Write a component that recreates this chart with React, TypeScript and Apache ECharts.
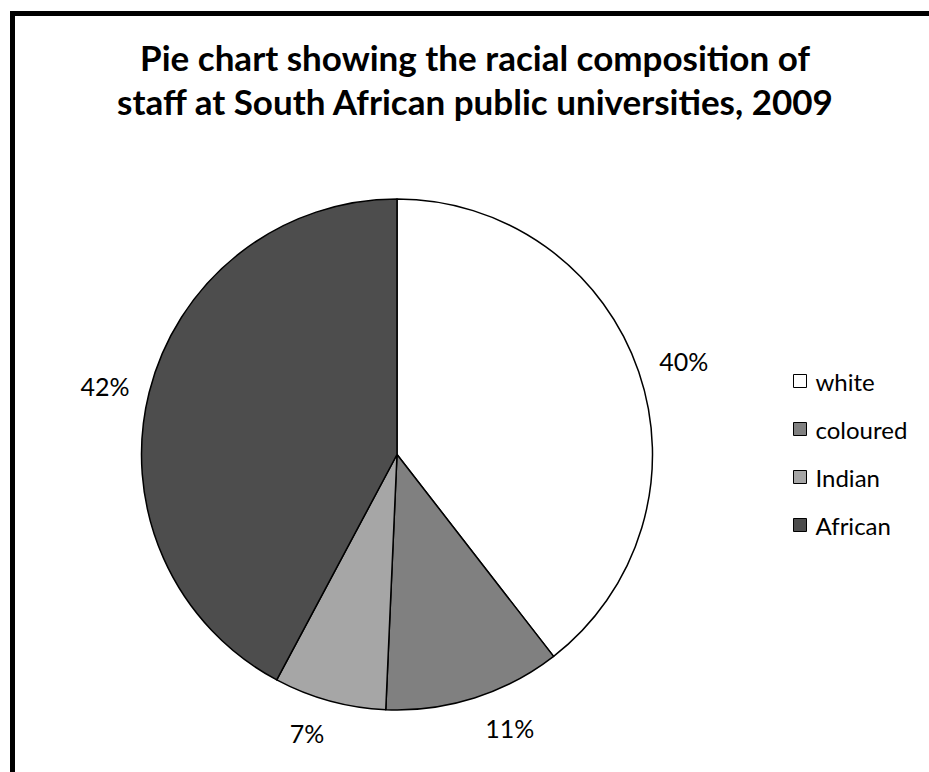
import React, { useEffect, useRef } from 'react';
import * as echarts from 'echarts';

const categories = ['white', 'coloured', 'Indian', 'African'];
const values = [39.5, 11.2, 7.1, 42.2];
const colors = ['#ffffff', '#808080', '#a6a6a6', '#4d4d4d'];
const titleLines = [
  'Pie chart showing the racial composition of',
  'staff at South African public universities, 2009',
];

// small nudges of the percentage labels (Excel-style placement)
const labelNudge: Record<number, [number, number]> = {
  0: [0, 5],
  1: [21, -15],
  2: [-10, -14],
  3: [2, 5],
};

export default function App() {
  const ref = useRef<HTMLDivElement>(null);
  useEffect(() => {
    const chart = echarts.init(ref.current!, null, { renderer: 'svg' });
    const data = categories.map((name, i) => ({
      name,
      value: values[i],
      itemStyle: { color: colors[i] },
    }));
    const ghostData = categories.map((name, i) => ({ name, value: values[i] }));
    chart.setOption({
      animation: false,
      backgroundColor: '#ffffff',
      title: {
        text: titleLines.join('\n'),
        left: 470,
        top: 30,
        textAlign: 'center',
        textStyle: {
          fontFamily: 'Lato',
          fontWeight: 'bold',
          fontSize: 35,
          lineHeight: 44,
          color: '#000',
        },
      },
      legend: {
        orient: 'vertical',
        left: 788,
        top: 364,
        icon: 'rect',
        itemWidth: 13,
        itemHeight: 13,
        itemGap: 24,
        data: categories,
        itemStyle: { borderColor: '#000', borderWidth: 1 },
        textStyle: {
          fontFamily: 'Lato',
          fontSize: 24,
          lineHeight: 24,
          color: '#000',
          padding: [0, 0, 0, 4],
        },
      },
      graphic: [
        { type: 'rect', shape: { x: 10, y: 11, width: 5, height: 770 }, style: { fill: '#000' } },
        { type: 'rect', shape: { x: 10, y: 11, width: 930, height: 5 }, style: { fill: '#000' } },
      ],
      series: [
        {
          type: 'pie',
          center: [397, 454.5],
          radius: 255.5,
          startAngle: 90,
          clockwise: true,
          data,
          label: { show: false },
          labelLine: { show: false },
          itemStyle: { borderColor: '#000', borderWidth: 1.5 },
          emphasis: { disabled: true },
        },
        {
          type: 'pie',
          center: [397, 454.5],
          radius: [255.5, 344.5],
          startAngle: 90,
          clockwise: true,
          silent: true,
          data: ghostData,
          itemStyle: { color: 'transparent', borderWidth: 0 },
          label: {
            show: true,
            position: 'inside',
            formatter: (p: any) => Math.round(p.percent) + '%',
            fontFamily: 'Lato',
            fontSize: 25,
            color: '#000',
          },
          labelLayout: (p: any) => {
            const n = labelNudge[p.dataIndex] || [0, 0];
            return { dx: n[0], dy: n[1] };
          },
          labelLine: { show: false },
          emphasis: { disabled: true },
        },
      ],
    });
    return () => chart.dispose();
  }, []);
  return (
    <div
      ref={ref}
      style={{ position: 'fixed', left: 0, top: 0, width: 929, height: 772, background: '#fff' }}
    />
  );
}
